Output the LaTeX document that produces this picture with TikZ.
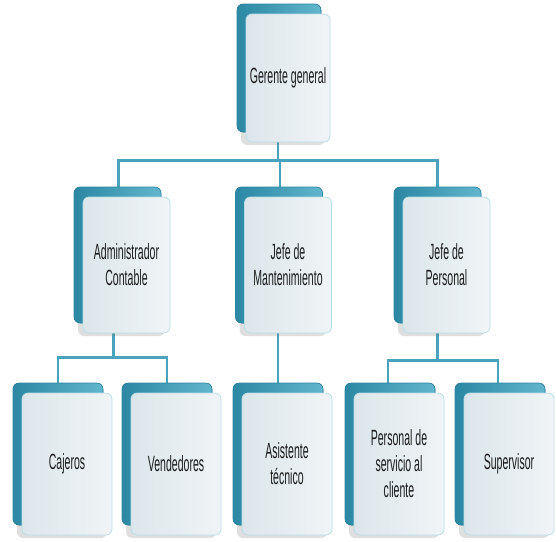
\documentclass[tikz,border=0pt]{standalone}
\usepackage{fontspec}
\setmainfont{Liberation Sans}[FakeStretch=0.48]
\usetikzlibrary{shadows,backgrounds}
\definecolor{tealdark}{HTML}{2B87A3}
\definecolor{teallight}{HTML}{62B6CC}
\definecolor{cardleft}{HTML}{DCE6EA}
\definecolor{cardright}{HTML}{F0F4F6}
\definecolor{linkteal}{HTML}{4AA3BC}
\definecolor{cardtext}{HTML}{1C1C1C}
\tikzset{
  card/.style={draw=teallight!45!white, line width=0.8pt, left color=cardleft, right color=cardright,
    rounded corners=6pt, align=center, inner sep=0pt, text=cardtext,
    font=\fontsize{22}{26}\selectfont,
    drop shadow={shadow xshift=-5pt, shadow yshift=-3pt, opacity=0.25},
    copy shadow={shadow xshift=-9pt, shadow yshift=10pt, left color=tealdark,
      right color=teallight, draw=tealdark, line width=0.6pt}},
  top/.style={card, minimum width=84pt, minimum height=128pt},
  mid/.style={card, minimum width=87pt, minimum height=136pt},
  low/.style={card, minimum width=90pt, minimum height=142pt},
  link/.style={draw=linkteal, line width=2.6pt}
}
\begin{document}
\begin{tikzpicture}[x=1pt,y=-1pt]
 \useasboundingbox (0,0) rectangle (556,541);
 \node[top] (gg) at (288,78) {Gerente general};
 \node[mid] (adm) at (126.5,265) {Administrador\\Contable};
 \node[mid] (mant) at (288,265) {Jefe de\\Mantenimiento};
 \node[mid] (pers) at (446.5,265) {Jefe de\\Personal};
 \node[low] (caj) at (67,464) {Cajeros};
 \node[low] (ven) at (176,464) {Vendedores};
 \node[low] (asis) at (287,464) {Asistente\\t\'ecnico};
 \node[low] (psc) at (399,464) {Personal de\\servicio al\\cliente};
 \node[low] (sup) at (509,464) {Supervisor};
 \begin{scope}[on background layer]
  \draw[link] ([xshift=-10pt]gg.south) -- ++(0,18) -| ([xshift=-8pt]adm.north);
  \draw[link] ([xshift=-10pt]gg.south) -- ++(0,18) -| ([xshift=-8pt]mant.north);
  \draw[link] ([xshift=-10pt]gg.south) -- ++(0,18) -| ([xshift=-9pt]pers.north);
  \draw[link] ([xshift=-13pt]adm.south) -- ++(0,24) -| ([xshift=-9pt]caj.north);
  \draw[link] ([xshift=-13pt]adm.south) -- ++(0,24) -| ([xshift=-9pt]ven.north);
  \draw[link] ([xshift=-10pt]mant.south) -- ([xshift=-9pt]asis.north);
  \draw[link] ([xshift=-9pt]pers.south) -- ++(0,27) -| ([xshift=-11pt]psc.north);
  \draw[link] ([xshift=-9pt]pers.south) -- ++(0,27) -| ([xshift=-11pt]sup.north);
 \end{scope}
\end{tikzpicture}
\end{document}
